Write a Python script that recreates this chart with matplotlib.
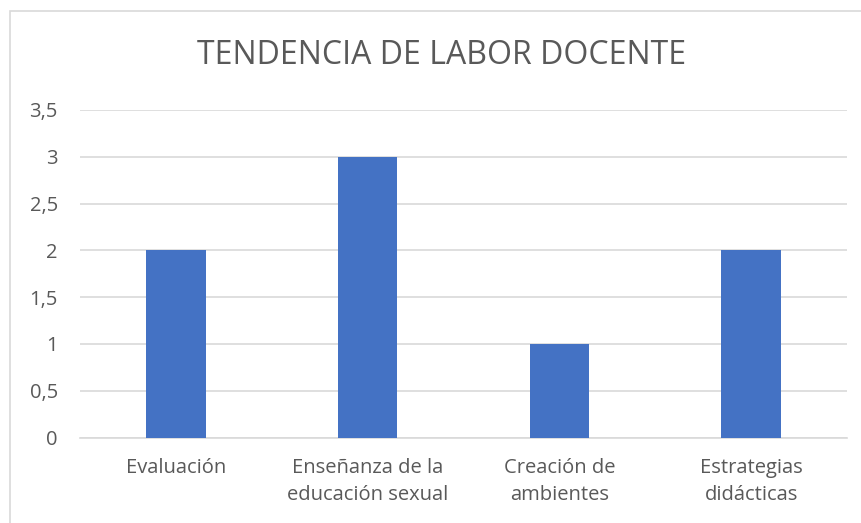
import matplotlib.pyplot as plt
from matplotlib.patches import Rectangle
from matplotlib.ticker import FuncFormatter

categorias = ["Evaluación", "Enseñanza de la\neducación sexual", "Creación de\nambientes", "Estrategias\ndidácticas"]
valores = [2, 3, 1, 2]
titulo = "TENDENCIA DE LABOR DOCENTE"

plt.rcParams['font.family'] = ['Open Sans', 'DejaVu Sans']
gris = '#595959'

fig = plt.figure(figsize=(8.62, 5.23), dpi=100)
W, H = 862, 523

# marco del gráfico (sólo se ven borde izquierdo y superior)
fig.patches.append(Rectangle((10 / W, -0.1), 1.2, 1 - 11 / H + 0.1, transform=fig.transFigure,
                             fill=False, edgecolor='#d9d9d9', linewidth=1.2))

ax = fig.add_axes([80 / W, 1 - 437.5 / H, (847 - 80) / W, (437.5 - 110) / H])
x = range(len(categorias))
ax.bar(x, valores, width=0.31, color='#4472c4', zorder=3)

ax.set_xlim(-0.5, len(categorias) - 0.5)
ax.set_ylim(0, 3.5)
ax.set_yticks([i * 0.5 for i in range(8)])
ax.yaxis.set_major_formatter(FuncFormatter(lambda v, p: f"{v:g}".replace('.', ',')))
ax.set_xticks(list(x))
ax.set_xticklabels(categorias, linespacing=1.45, va='top')
ax.grid(axis='y', color='#d9d9d9', linewidth=1.2, zorder=0)
for s in ['top', 'right', 'left']:
    ax.spines[s].set_visible(False)
ax.spines['bottom'].set_color('#d9d9d9')
ax.spines['bottom'].set_linewidth(1.2)
ax.tick_params(axis='both', length=0, labelsize=14.5, labelcolor=gris)
ax.tick_params(axis='x', pad=15)
ax.tick_params(axis='y', pad=16)

fig.text(442 / W, 1 - 55 / H, titulo, ha='center', va='center', fontsize=23, color=gris)

fig.savefig('out.png', dpi=100)
